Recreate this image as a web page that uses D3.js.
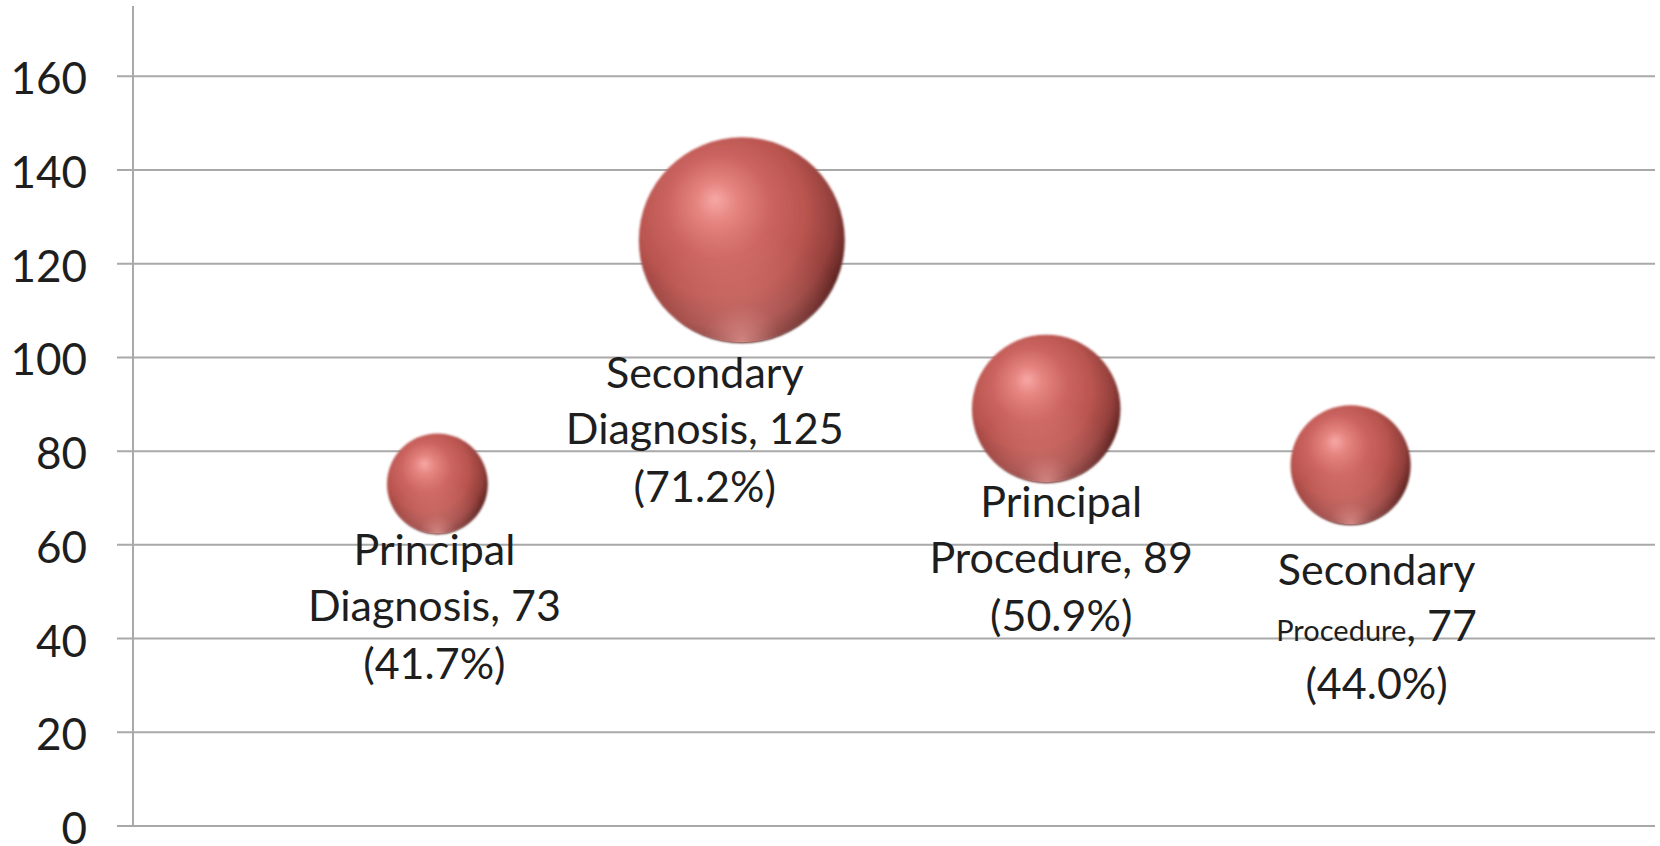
<!DOCTYPE html>
<html>
<head>
<meta charset="utf-8">
<script src="https://cdn.jsdelivr.net/npm/d3@7"></script>
<style>
  html, body { margin: 0; padding: 0; background: #fff; }
  svg { display: block; }
  text { font-family: Lato, "Open Sans", sans-serif; fill: #1e1e1e; }
</style>
</head>
<body>
<svg id="chart" width="1660" height="846"></svg>
<script>
// Coded item counts by category
const categories = ["Principal Diagnosis", "Secondary Diagnosis", "Principal Procedure", "Secondary Procedure"];
const xValues = [1, 2, 3, 4];
const counts = [73, 125, 89, 77];
const percents = ["41.7%", "71.2%", "50.9%", "44.0%"];
const bubbleSizes = [24, 100, 52, 34];
const yTicks = [0, 20, 40, 60, 80, 100, 120, 140, 160];

// Label placement relative to each bubble centre (layout only)
const labelOffsets = [[-3, 0.66], [-37, 1.33], [15, 0.93], [26, 1.05]];

const plot = { left: 133, right: 1655, bottom: 826, top: 6 };

const svg = d3.select("#chart");

const x = d3.scaleLinear().domain([0, 5]).range([plot.left, plot.right]);
const y = d3.scaleLinear().domain([0, 175]).range([plot.bottom, plot.top]);
const r = d3.scaleSqrt().domain([0, 100]).range([0, 103]);

// Sphere shading: lit from upper left, darker toward lower right
const defs = svg.append("defs");
const g1 = defs.append("radialGradient").attr("id", "sphere")
  .attr("cx", "42%").attr("cy", "40%").attr("r", "62%")
  .attr("fx", "37%").attr("fy", "30%");
[[0, "#f7a8a5"], [0.16, "#e58480"], [0.4, "#cc6561"], [0.66, "#b9544f"], [0.86, "#94403c"], [1, "#5a2220"]]
  .forEach(([o, c]) => g1.append("stop").attr("offset", o).attr("stop-color", c));

const g2 = defs.append("radialGradient").attr("id", "rim")
  .attr("cx", "50%").attr("cy", "100%").attr("r", "55%");
[[0, "#f3a4a0", 0.75], [0.35, "#e8908c", 0.35], [1, "#e8908c", 0]]
  .forEach(([o, c, a]) => g2.append("stop").attr("offset", o).attr("stop-color", c).attr("stop-opacity", a));

const blur = defs.append("filter").attr("id", "soft").attr("x", "-20%").attr("y", "-20%").attr("width", "140%").attr("height", "140%");
blur.append("feGaussianBlur").attr("stdDeviation", 1.2);

// Gridlines
svg.append("g").selectAll("line").data(yTicks).join("line")
  .attr("x1", plot.left - 16).attr("x2", plot.right)
  .attr("y1", d => y(d)).attr("y2", d => y(d))
  .attr("stroke", "#a9a9a9").attr("stroke-width", 2);

// Vertical axis line
svg.append("line")
  .attr("x1", plot.left).attr("x2", plot.left).attr("y1", plot.top).attr("y2", plot.bottom)
  .attr("stroke", "#a9a9a9").attr("stroke-width", 2);

// Tick labels
svg.append("g").selectAll("text").data(yTicks).join("text")
  .attr("x", 87).attr("y", d => y(d) + 18)
  .attr("text-anchor", "end")
  .attr("font-size", 44)
  .text(d => d);

// Bubbles
const data = categories.map((c, i) => ({
  name: c, x: xValues[i], v: counts[i], p: percents[i], s: bubbleSizes[i], off: labelOffsets[i]
}));

const bub = svg.append("g").selectAll("g").data(data).join("g")
  .attr("transform", d => `translate(${x(d.x)},${y(d.v)})`);
bub.append("circle").attr("r", d => r(d.s)).attr("fill", "url(#sphere)").attr("filter", "url(#soft)");
bub.append("circle").attr("r", d => r(d.s) - 1).attr("fill", "url(#rim)");

// Data labels
const lab = svg.append("g").selectAll("text").data(data).join("text")
  .attr("text-anchor", "middle")
  .attr("font-size", 43);

lab.each(function(d, i) {
  const t = d3.select(this);
  const cx = x(d.x) + d.off[0];
  const cy0 = y(d.v) + d.off[1] * 100 + 15;
  const words = d.name.split(" ");
  t.append("tspan").attr("x", cx).attr("y", cy0).text(words[0]);
  const l2 = t.append("tspan").attr("x", cx).attr("y", cy0 + 56);
  if (i === 3) {
    l2.append("tspan").attr("font-size", 29).text(words[1]);
    l2.append("tspan").text(", " + d.v);
  } else {
    l2.text(words[1] + ", " + d.v);
  }
  t.append("tspan").attr("x", cx).attr("y", cy0 + 114).text("(" + d.p + ")");
});
</script>
</body>
</html>
